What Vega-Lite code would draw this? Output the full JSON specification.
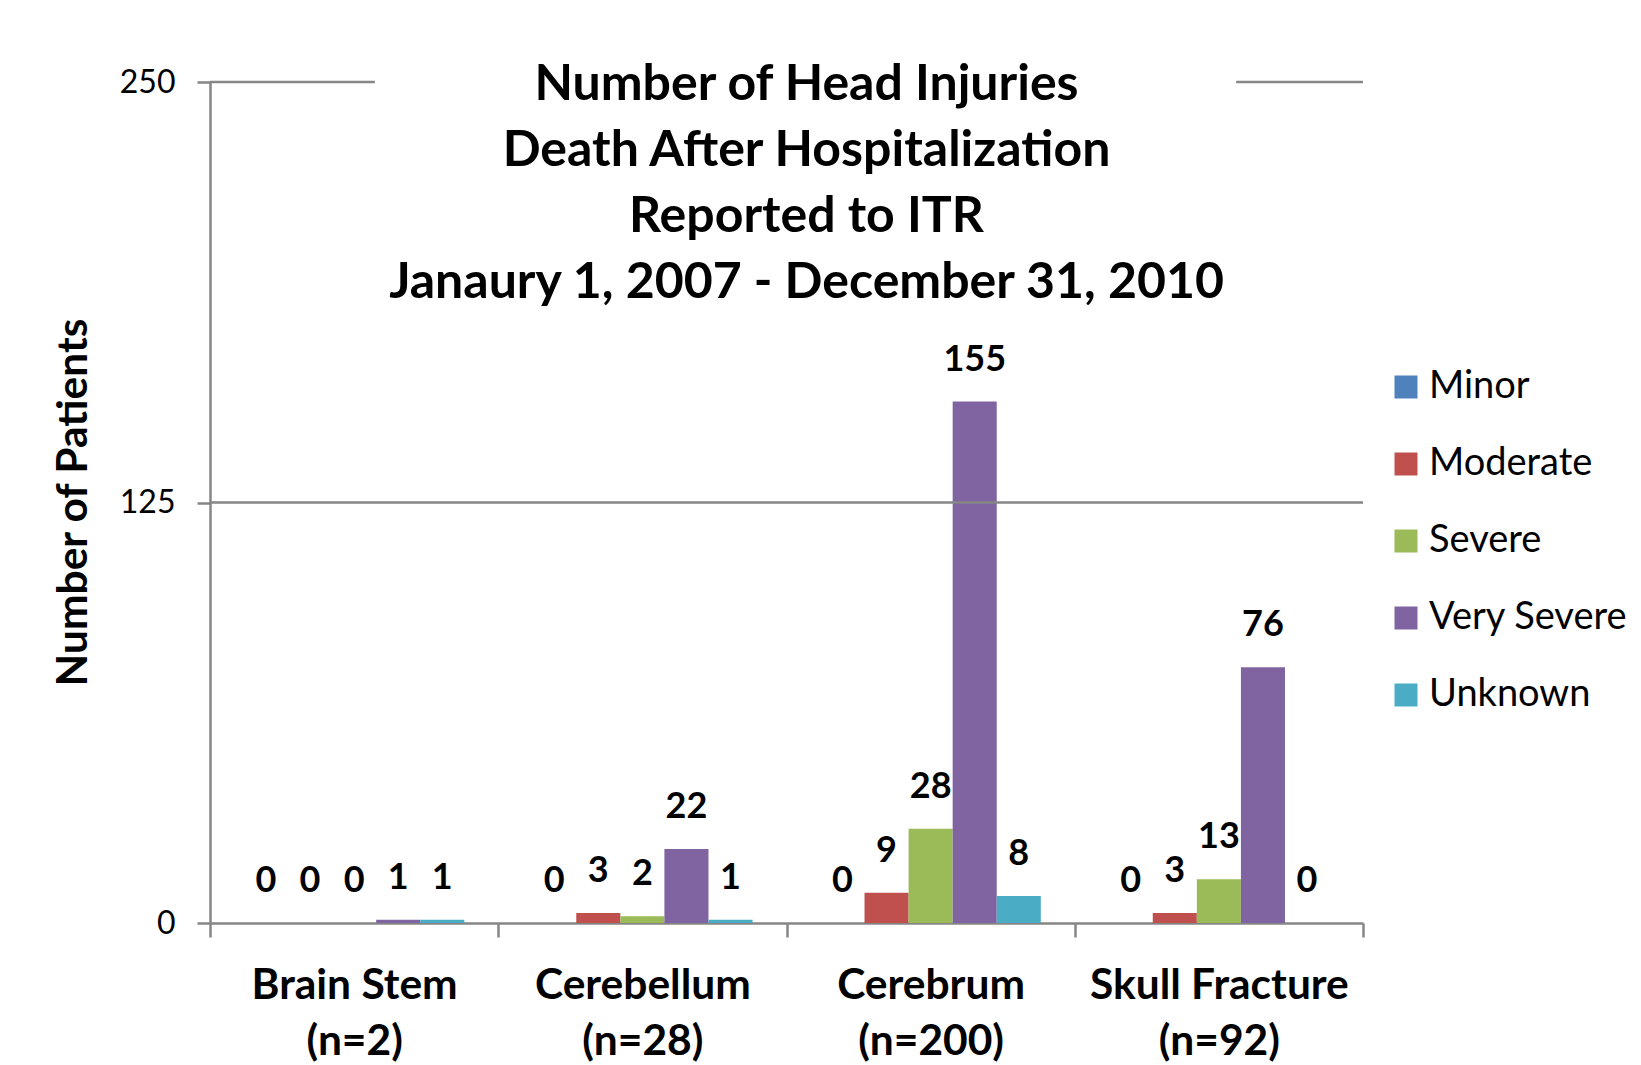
{
  "$schema": "https://vega.github.io/schema/vega-lite/v6.json",
  "autosize": "none",
  "width": 1153,
  "height": 841,
  "padding": {"left": 210, "top": 82, "right": 278, "bottom": 142},
  "background": "white",
  "config": {
    "font": "Lato",
    "view": {"stroke": null},
    "axis": {"domainColor": "#868686", "domainWidth": 2.5, "tickColor": "#868686", "tickWidth": 2.5, "labelColor": "black", "titleColor": "black"}
  },
  "title": {
    "text": ["Number of Head Injuries", "Death After Hospitalization", "Reported to ITR", "Janaury 1, 2007 - December 31, 2010"],
    "font": "Lato", "fontSize": 50, "fontWeight": "bold", "lineHeight": 66,
    "anchor": "middle", "frame": "group", "dx": 20, "offset": -242, "color": "black"
  },
  "data": {
    "values": [
      {"region": "Brain Stem (n=2)", "severity": "Minor", "count": 0},
      {"region": "Brain Stem (n=2)", "severity": "Moderate", "count": 0},
      {"region": "Brain Stem (n=2)", "severity": "Severe", "count": 0},
      {"region": "Brain Stem (n=2)", "severity": "Very Severe", "count": 1},
      {"region": "Brain Stem (n=2)", "severity": "Unknown", "count": 1},
      {"region": "Cerebellum (n=28)", "severity": "Minor", "count": 0},
      {"region": "Cerebellum (n=28)", "severity": "Moderate", "count": 3},
      {"region": "Cerebellum (n=28)", "severity": "Severe", "count": 2},
      {"region": "Cerebellum (n=28)", "severity": "Very Severe", "count": 22},
      {"region": "Cerebellum (n=28)", "severity": "Unknown", "count": 1},
      {"region": "Cerebrum (n=200)", "severity": "Minor", "count": 0},
      {"region": "Cerebrum (n=200)", "severity": "Moderate", "count": 9},
      {"region": "Cerebrum (n=200)", "severity": "Severe", "count": 28},
      {"region": "Cerebrum (n=200)", "severity": "Very Severe", "count": 155},
      {"region": "Cerebrum (n=200)", "severity": "Unknown", "count": 8},
      {"region": "Skull Fracture (n=92)", "severity": "Minor", "count": 0},
      {"region": "Skull Fracture (n=92)", "severity": "Moderate", "count": 3},
      {"region": "Skull Fracture (n=92)", "severity": "Severe", "count": 13},
      {"region": "Skull Fracture (n=92)", "severity": "Very Severe", "count": 76},
      {"region": "Skull Fracture (n=92)", "severity": "Unknown", "count": 0}
    ]
  },
  "layer": [
    {
      "mark": {"type": "bar"},
      "encoding": {
        "x": {
          "field": "region", "type": "nominal", "sort": null,
          "scale": {"paddingInner": 0, "paddingOuter": 0},
          "axis": {
            "title": null, "labelAngle": 0, "tickBand": "extent", "tickSize": 14,
            "labelFontSize": 42.5, "labelFontWeight": "bold", "labelLineHeight": 56, "labelLimit": 0,
            "labelBaseline": "top", "labelPadding": 27,
            "labelExpr": "[slice(datum.label, 0, indexof(datum.label, ' (')), slice(datum.label, indexof(datum.label, ' (') + 1)]"
          }
        },
        "xOffset": {"field": "severity", "type": "nominal", "sort": ["Minor", "Moderate", "Severe", "Very Severe", "Unknown"], "scale": {"paddingInner": 0, "paddingOuter": 0.77}},
        "y": {
          "field": "count", "type": "quantitative",
          "scale": {"domain": [0, 250], "nice": false},
          "axis": {
            "values": [0, 125, 250], "grid": false, "tickSize": 13,
            "labelFontSize": 32, "labelPadding": 22,
            "title": "Number of Patients", "titleFontSize": 42.5, "titleFontWeight": "bold",
            "titleX": -137, "titleY": 420, "titleAngle": -90, "titleAlign": "center", "titleBaseline": "middle"
          }
        },
        "color": {
          "field": "severity", "type": "nominal",
          "scale": {"domain": ["Minor", "Moderate", "Severe", "Very Severe", "Unknown"], "range": ["#4F81BD", "#C0504D", "#9BBB59", "#8064A2", "#4BACC6"]},
          "legend": {
            "title": null, "orient": "none", "legendX": 1177, "legendY": 286, "padding": 0,
            "symbolType": "square", "symbolSize": 529, "symbolStrokeWidth": 0,
            "labelFontSize": 38, "labelFont": "Lato", "labelOffset": 4, "rowPadding": 39, "labelColor": "black", "labelLimit": 0
          }
        }
      }
    },
    {
      "mark": {"type": "text", "fontSize": 36, "fontWeight": "bold", "baseline": "alphabetic", "dy": -31, "color": "black"},
      "encoding": {
        "x": {"field": "region", "type": "nominal", "sort": null},
        "xOffset": {"field": "severity", "type": "nominal", "sort": ["Minor", "Moderate", "Severe", "Very Severe", "Unknown"], "scale": {"paddingInner": 0, "paddingOuter": 0.77}},
        "y": {"field": "count", "type": "quantitative"},
        "text": {"field": "count", "type": "quantitative"}
      }
    },
    {
      "data": {"values": [{"level": 125}]},
      "mark": {"type": "rule", "color": "#868686", "strokeWidth": 2.5},
      "encoding": {"y": {"field": "level", "type": "quantitative"}}
    },
    {
      "data": {"values": [{"level": 250}]},
      "mark": {"type": "rule", "color": "#868686", "strokeWidth": 2.5},
      "encoding": {
        "y": {"field": "level", "type": "quantitative"},
        "x": {"datum": "Brain Stem (n=2)", "bandPosition": 0},
        "x2": {"datum": "Brain Stem (n=2)", "bandPosition": 0.572}
      }
    },
    {
      "data": {"values": [{"level": 250}]},
      "mark": {"type": "rule", "color": "#868686", "strokeWidth": 2.5},
      "encoding": {
        "y": {"field": "level", "type": "quantitative"},
        "x": {"datum": "Skull Fracture (n=92)", "bandPosition": 0.56},
        "x2": {"datum": "Skull Fracture (n=92)", "bandPosition": 1}
      }
    }
  ]
}
